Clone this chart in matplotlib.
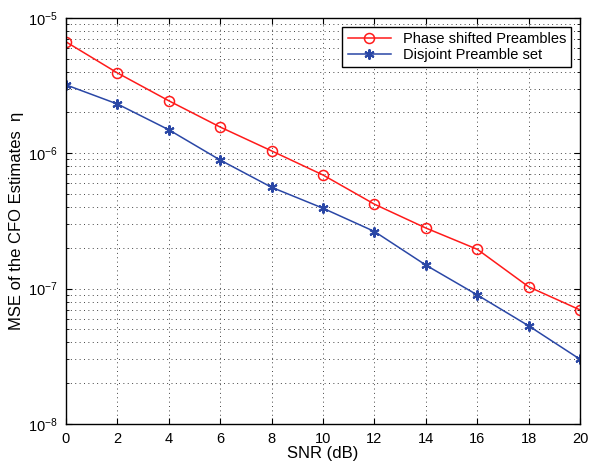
import matplotlib
matplotlib.use('Agg')
import matplotlib.pyplot as plt
import numpy as np

plt.rcParams['font.family'] = ['Liberation Sans', 'DejaVu Sans']
plt.rcParams['mathtext.fontset'] = 'custom'
plt.rcParams['mathtext.rm'] = 'Liberation Sans'

snr = [0, 2, 4, 6, 8, 10, 12, 14, 16, 18, 20]
phase_shifted = [6.65e-6, 3.92e-6, 2.44e-6, 1.56e-6, 1.04e-6, 6.9e-7,
                 4.2e-7, 2.8e-7, 1.95e-7, 1.03e-7, 6.95e-8]
disjoint = [3.2e-6, 2.31e-6, 1.49e-6, 8.9e-7, 5.6e-7, 3.92e-7,
            2.64e-7, 1.49e-7, 8.97e-8, 5.3e-8, 3.0e-8]

fig = plt.figure(figsize=(5.89, 4.70), dpi=100)
ax = fig.add_axes([0.112, 0.098, 0.873, 0.864])

asterisk = (6, 2, 0)
ax.semilogy(snr, phase_shifted, '-o', color='#ff1a1a', lw=1.1, ms=7.2,
            mfc='none', mew=1.1, label='Phase shifted Preambles')
ax.semilogy(snr, disjoint, '-', marker=asterisk, color='#2a47a6', lw=1.1, ms=7.2,
            mew=1.5, label='Disjoint Preamble set')

ax.set_xlim(0, 20)
ax.set_ylim(1e-8, 1e-5)
ax.set_xticks(snr)
dots = (0, (1, 3.5))
ax.grid(True, which='major', ls=dots, color='#444444', lw=0.7)
ax.grid(True, which='minor', axis='y', ls=dots, color='#444444', lw=0.7)
ax.tick_params(which='both', direction='in', top=True, right=True, labelsize=10.5)
ax.tick_params(which='major', length=4, pad=6)
ax.tick_params(which='minor', length=2)
for s in ax.spines.values():
    s.set_linewidth(1.0)

ax.set_xlabel('SNR (dB)', fontsize=12, labelpad=0)
ax.set_ylabel('MSE of the CFO Estimates  η', fontsize=12, labelpad=3)

leg = ax.legend(loc='upper right', fontsize=10.5, fancybox=False, framealpha=1,
                edgecolor='k', borderpad=0.35, handlelength=3.0,
                borderaxespad=0.6, labelspacing=0.15)
leg.get_frame().set_linewidth(1.0)

fig.savefig('out.png', dpi=100)
